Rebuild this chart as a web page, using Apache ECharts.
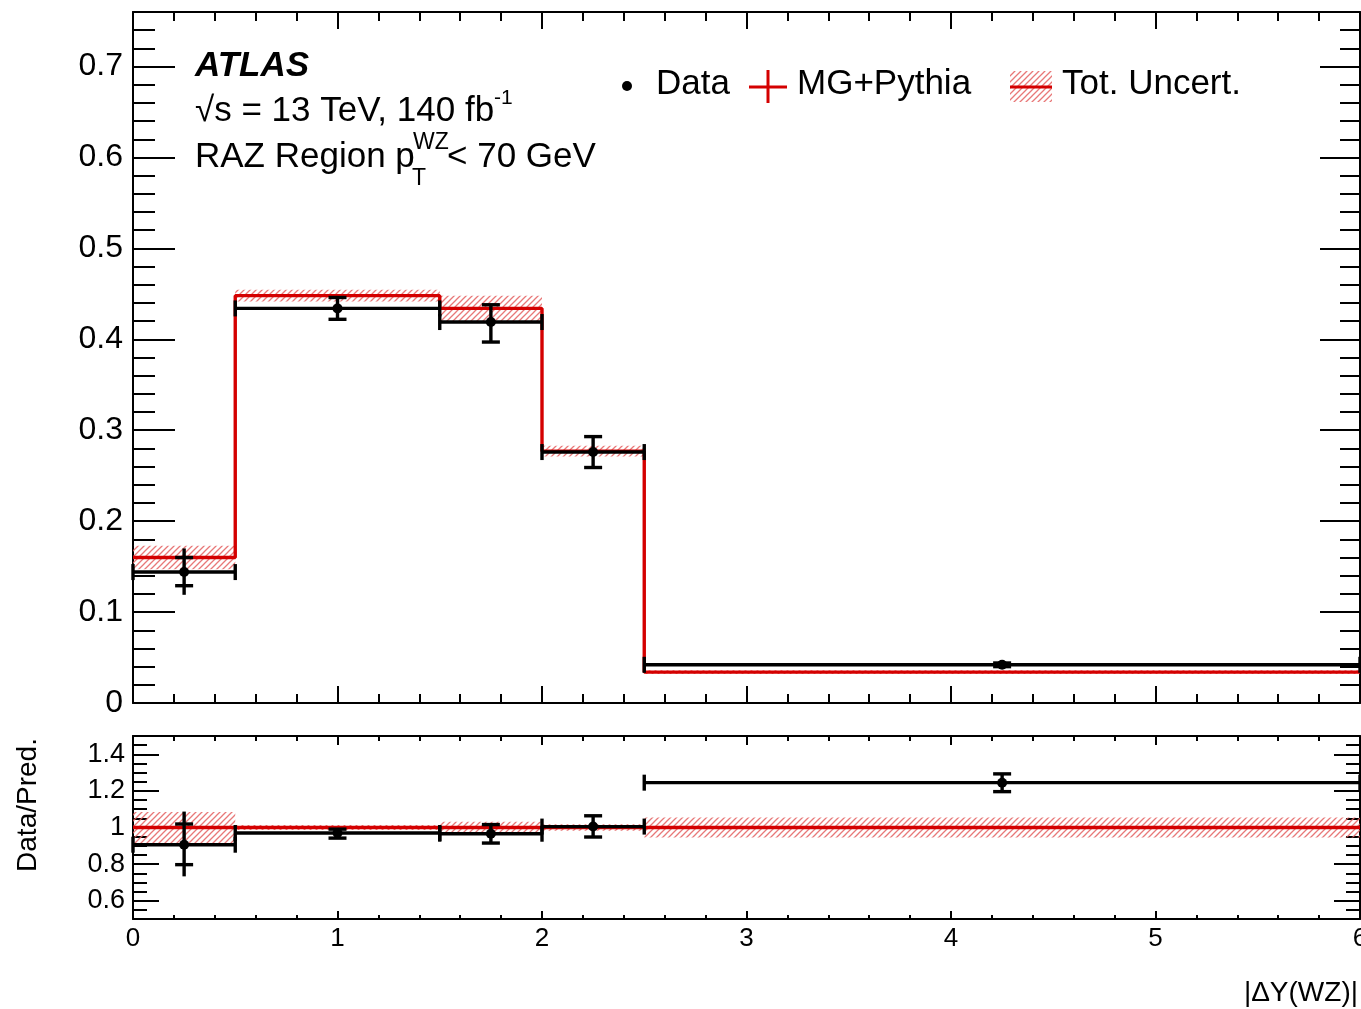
<!DOCTYPE html>
<html lang="en">
<head>
<meta charset="UTF-8">
<title>|ΔY(WZ)| RAZ region</title>
<script src="https://cdn.jsdelivr.net/npm/echarts@6/dist/echarts.min.js"></script>
<style>
html, body { margin: 0; padding: 0; background: #fff; }
#main { width: 1361px; height: 1009px; }
</style>
</head>
<body>
<div id="main"></div>
<script>
// bins of |dY(WZ)|
var binEdges = [0, 0.5, 1.5, 2, 2.5, 6];
var binCenters = [0.25, 1, 1.75, 2.25, 4.25];

// MG+Pythia prediction and total uncertainty (absolute)
var mcValues = [0.160, 0.448, 0.434, 0.277, 0.034];
var mcUncert = [0.013, 0.0065, 0.014, 0.006, 0.002];

// data: central value, capped error, full error line
var dataValues = [0.144, 0.434, 0.419, 0.276, 0.042];
var dataCapLo = [0.129, 0.422, 0.397, 0.259, 0.040];
var dataCapHi = [0.160, 0.446, 0.438, 0.293, 0.044];
var dataBarLo = [0.119, 0.422, 0.397, 0.259, 0.040];
var dataBarHi = [0.170, 0.446, 0.438, 0.293, 0.044];

// ratio panel (Data/Pred.)
var ratioValues = [0.906, 0.970, 0.966, 1.005, 1.245];
var ratioCapLo = [0.797, 0.942, 0.915, 0.948, 1.196];
var ratioCapHi = [1.019, 0.991, 1.016, 1.064, 1.293];
var ratioBarLo = [0.733, 0.942, 0.915, 0.948, 1.196];
var ratioBarHi = [1.087, 0.991, 1.016, 1.064, 1.293];
var ratioUncert = [0.085, 0.014, 0.032, 0.018, 0.055];

// tick labels
var xTicks = [0, 1, 2, 3, 4, 5, 6];
var yMainTicks = [0, 0.1, 0.2, 0.3, 0.4, 0.5, 0.6, 0.7];
var yRatioTicks = [0.6, 0.8, 1, 1.2, 1.4];

var RED = '#d40000';
var FONT = '"Liberation Sans", Arial, Helvetica, sans-serif';

function makeHatch() {
    var s = 6, c = document.createElement('canvas');
    c.width = s; c.height = s;
    var g = c.getContext('2d');
    g.strokeStyle = 'rgba(228,96,96,0.85)';
    g.lineWidth = 1.3;
    g.beginPath();
    g.moveTo(-1, s + 1); g.lineTo(s + 1, -1);
    g.moveTo(-1, 1); g.lineTo(1, -1);
    g.moveTo(s - 1, s + 1); g.lineTo(s + 1, s - 1);
    g.stroke();
    return c;
}
var hatch = { image: makeHatch(), repeat: 'repeat' };

function range(a, b, step) {
    var out = [];
    for (var v = a; v <= b + step / 100; v += step) out.push(Math.round(v * 1000) / 1000);
    return out;
}

// one axis: o = {grid, pos, min, max, ticks, len, line, label}
function axis(o) {
    var a = {
        type: 'value', gridIndex: o.grid, position: o.pos, min: o.min, max: o.max,
        axisLine: { show: !!o.line, onZero: false, lineStyle: { color: '#000', width: 2 } },
        axisTick: { show: true, inside: true, length: o.len, customValues: o.ticks,
            lineStyle: { color: '#000', width: 2 } },
        axisLabel: { show: !!o.label, customValues: o.ticks },
        splitLine: { show: false }
    };
    if (o.label) {
        a.axisLabel.color = '#000';
        a.axisLabel.fontFamily = FONT;
        a.axisLabel.fontSize = o.label.size;
        a.axisLabel.margin = o.label.margin;
        a.axisLabel.formatter = function (v) { return String(Math.round(v * 10) / 10); };
    }
    return a;
}

var xMinor = range(0, 6, 0.2);
var yMainMinor = range(0, 0.76, 0.02);
var yRatioMinor = range(0.5, 1.5, 0.05);

var xAxes = [
    axis({ grid: 0, pos: 'bottom', min: 0, max: 6, ticks: xTicks, len: 17, line: true }),
    axis({ grid: 0, pos: 'bottom', min: 0, max: 6, ticks: xMinor, len: 9 }),
    axis({ grid: 0, pos: 'top', min: 0, max: 6, ticks: xTicks, len: 17, line: true }),
    axis({ grid: 0, pos: 'top', min: 0, max: 6, ticks: xMinor, len: 9 }),
    axis({ grid: 1, pos: 'bottom', min: 0, max: 6, ticks: xTicks, len: 8, line: true, label: { size: 26, margin: 7 } }),
    axis({ grid: 1, pos: 'bottom', min: 0, max: 6, ticks: xMinor, len: 4 }),
    axis({ grid: 1, pos: 'top', min: 0, max: 6, ticks: xTicks, len: 9, line: true }),
    axis({ grid: 1, pos: 'top', min: 0, max: 6, ticks: xMinor, len: 5 })
];
var yAxes = [
    axis({ grid: 0, pos: 'left', min: 0, max: 0.76, ticks: yMainTicks, len: 42, line: true, label: { size: 32, margin: 10 } }),
    axis({ grid: 0, pos: 'left', min: 0, max: 0.76, ticks: yMainMinor, len: 22 }),
    axis({ grid: 0, pos: 'right', min: 0, max: 0.76, ticks: yMainTicks, len: 40, line: true }),
    axis({ grid: 0, pos: 'right', min: 0, max: 0.76, ticks: yMainMinor, len: 20 }),
    axis({ grid: 1, pos: 'left', min: 0.5, max: 1.5, ticks: yRatioTicks, len: 26, line: true, label: { size: 27, margin: 8 } }),
    axis({ grid: 1, pos: 'left', min: 0.5, max: 1.5, ticks: yRatioMinor, len: 14 }),
    axis({ grid: 1, pos: 'right', min: 0.5, max: 1.5, ticks: yRatioTicks, len: 26, line: true }),
    axis({ grid: 1, pos: 'right', min: 0.5, max: 1.5, ticks: yRatioMinor, len: 14 })
];

// series data built from the arrays above
function bandData(vals, unc) {
    return vals.map(function (v, i) { return [binEdges[i], binEdges[i + 1], v - unc[i], v + unc[i]]; });
}
function stepData(vals) {
    var out = [];
    vals.forEach(function (v, i) { out.push([binEdges[i], v], [binEdges[i + 1], v]); });
    return out;
}
function pointData(vals, capLo, capHi, barLo, barHi) {
    return vals.map(function (v, i) {
        return [binEdges[i], binEdges[i + 1], binCenters[i], v, capLo[i], capHi[i], barLo[i], barHi[i]];
    });
}

function renderBand(params, api) {
    var p0 = api.coord([api.value(0), api.value(3)]);
    var p1 = api.coord([api.value(1), api.value(2)]);
    return {
        type: 'rect',
        shape: { x: p0[0], y: p0[1], width: p1[0] - p0[0], height: p1[1] - p0[1] },
        style: { fill: hatch }
    };
}

function seg(x1, y1, x2, y2) {
    return { type: 'line', shape: { x1: x1, y1: y1, x2: x2, y2: y2 },
        style: { stroke: '#000', lineWidth: 3.4 } };
}

function renderPoint(params, api) {
    var y = api.value(3), xc = api.value(2);
    var L = api.coord([api.value(0), y]);
    var R = api.coord([api.value(1), y]);
    var C = api.coord([xc, y]);
    var cl = api.coord([xc, api.value(4)]);
    var ch = api.coord([xc, api.value(5)]);
    var bl = api.coord([xc, api.value(6)]);
    var bh = api.coord([xc, api.value(7)]);
    return {
        type: 'group',
        children: [
            seg(L[0], L[1], R[0], R[1]),
            seg(L[0], L[1] - 8, L[0], L[1] + 8),
            seg(R[0], R[1] - 8, R[0], R[1] + 8),
            seg(C[0], bl[1], C[0], bh[1]),
            seg(C[0] - 9, cl[1], C[0] + 9, cl[1]),
            seg(C[0] - 9, ch[1], C[0] + 9, ch[1]),
            { type: 'circle', shape: { cx: C[0], cy: C[1], r: 5 }, style: { fill: '#000' } }
        ]
    };
}

var ones = mcValues.map(function () { return 1; });

var series = [
    { type: 'custom', name: 'Tot. Uncert.', xAxisIndex: 0, yAxisIndex: 0, renderItem: renderBand,
      data: bandData(mcValues, mcUncert), z: 1 },
    { type: 'line', name: 'MG+Pythia', xAxisIndex: 0, yAxisIndex: 0, data: stepData(mcValues),
      symbol: 'none', lineStyle: { color: RED, width: 3.4 }, z: 2 },
    { type: 'custom', name: 'Data', xAxisIndex: 0, yAxisIndex: 0, renderItem: renderPoint,
      data: pointData(dataValues, dataCapLo, dataCapHi, dataBarLo, dataBarHi), z: 3 },
    { type: 'custom', xAxisIndex: 4, yAxisIndex: 4, renderItem: renderBand,
      data: bandData(ones, ratioUncert), z: 1 },
    { type: 'line', xAxisIndex: 4, yAxisIndex: 4, data: stepData(ones),
      symbol: 'none', lineStyle: { color: RED, width: 3.4 }, z: 2 },
    { type: 'custom', xAxisIndex: 4, yAxisIndex: 4, renderItem: renderPoint,
      data: pointData(ratioValues, ratioCapLo, ratioCapHi, ratioBarLo, ratioBarHi), z: 3 }
];

function txt(str, x, y, size, extra) {
    var t = {
        type: 'text', x: x, y: y, z: 100,
        style: { text: str, fill: '#000', font: size + 'px ' + FONT,
            textAlign: 'left', textVerticalAlign: 'middle', align: 'left', verticalAlign: 'middle' }
    };
    if (extra) {
        for (var k in extra) t.style[k] = extra[k];
    }
    return t;
}

var graphics = [
    txt('ATLAS', 195, 66, 35, { font: 'italic bold 35px ' + FONT }),
    txt('\u221As = 13 TeV, 140 fb', 195, 111, 35),
    txt('-1', 494, 98, 21),
    txt('RAZ Region p', 195, 157, 35),
    txt('WZ', 413, 143, 23),
    txt('T', 412, 179, 23),
    txt('< 70 GeV', 447, 157, 35),
    // legend
    { type: 'circle', shape: { cx: 627, cy: 86, r: 5 }, style: { fill: '#000' }, z: 100 },
    txt('Data', 656, 84, 35),
    { type: 'line', shape: { x1: 749, y1: 87, x2: 787, y2: 87 }, style: { stroke: RED, lineWidth: 3 }, z: 100 },
    { type: 'line', shape: { x1: 768, y1: 70, x2: 768, y2: 103 }, style: { stroke: RED, lineWidth: 3 }, z: 100 },
    txt('MG+Pythia', 797, 84, 35),
    { type: 'rect', shape: { x: 1010, y: 71, width: 42, height: 31 }, style: { fill: hatch }, z: 100 },
    { type: 'line', shape: { x1: 1010, y1: 87, x2: 1052, y2: 87 }, style: { stroke: RED, lineWidth: 3 }, z: 101 },
    txt('Tot. Uncert.', 1062, 84, 35),
    // axis titles
    txt('|\u0394Y(WZ)|', 1358, 993, 28, { textAlign: 'right', align: 'right' }),
    { type: 'text', x: 28, y: 805, rotation: Math.PI / 2, z: 100,
      style: { text: 'Data/Pred.', fill: '#000', font: '28px ' + FONT,
        textAlign: 'center', textVerticalAlign: 'middle', align: 'center', verticalAlign: 'middle' } }
];

var chart = echarts.init(document.getElementById('main'), null, { renderer: 'canvas' });
chart.setOption({
    animation: false,
    backgroundColor: '#fff',
    grid: [
        { left: 133, right: 1, top: 12, bottom: 306, containLabel: false, outerBoundsMode: 'none' },
        { left: 133, right: 1, top: 736, bottom: 90, containLabel: false, outerBoundsMode: 'none' }
    ],
    xAxis: xAxes,
    yAxis: yAxes,
    series: series,
    graphic: graphics
});
</script>
</body>
</html>
